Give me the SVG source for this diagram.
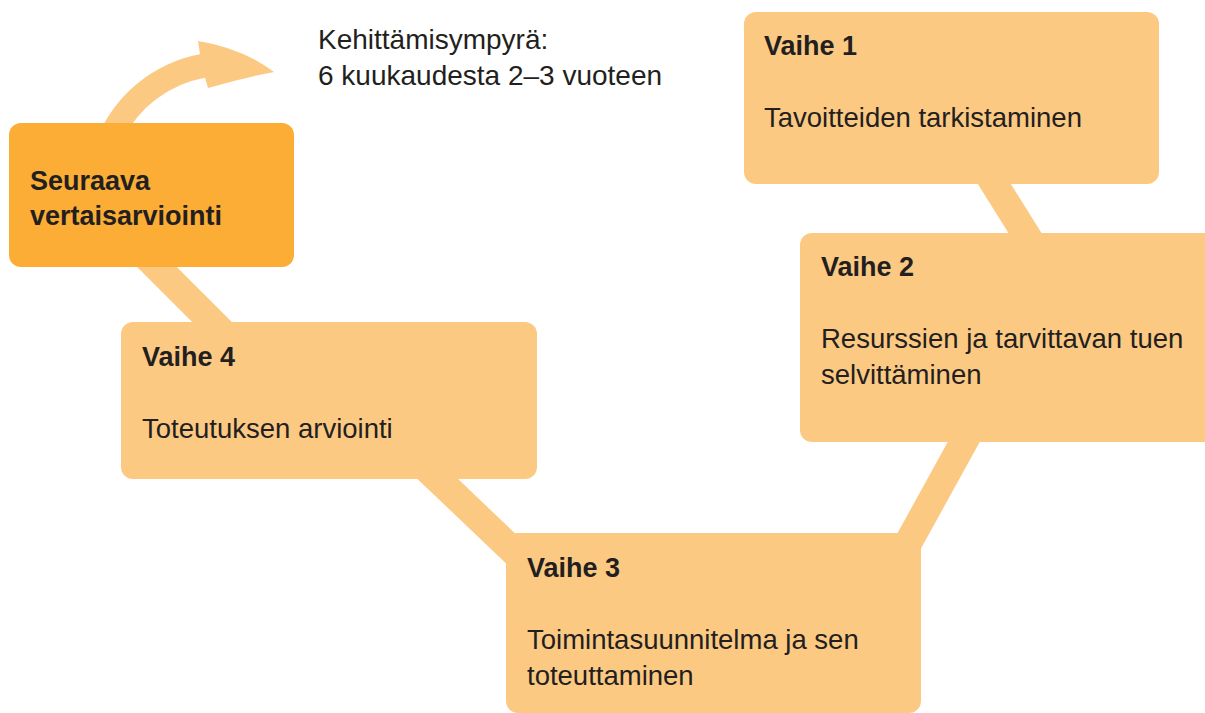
<svg xmlns="http://www.w3.org/2000/svg" width="1205" height="713" viewBox="0 0 1205 713">
  <style>
    .box { fill: #FCC983; }
    .boxdark { fill: #FBAD36; }
    .conn { stroke: #FCC983; stroke-width: 28; stroke-linecap: butt; fill: none; }
    .t { font-family: "Liberation Sans", Arial, sans-serif; fill: #231F20; }
    .h { font-size: 27px; font-weight: bold; }
    .b { font-size: 27.5px; }
    .note { font-size: 28px; }
  </style>
  <rect width="1205" height="713" fill="#FFFFFF"/>
  <g id="connectors">
    <path id="cycle-arrow" fill="#FCC983" d="M 96.4,140 A 138 138 0 0 1 200,54.3 L 198,41 Q 242,48 274,72 Q 242,78 208,88 L 205,77.8 A 114 114 0 0 0 122.6,140 Z"/>
    <line class="conn" x1="140" y1="250" x2="230" y2="340"/>
    <line class="conn" x1="420" y1="462" x2="530" y2="567"/>
    <line class="conn" x1="972" y1="427" x2="897" y2="563"/>
    <line class="conn" x1="985" y1="169" x2="1035" y2="249"/>
  </g>
  <g id="note">
    <text class="t note" x="318" y="49">Kehittämisympyrä:</text>
    <text class="t note" x="318" y="85">6 kuukaudesta 2–3 vuoteen</text>
  </g>
  <g id="next-review">
    <rect class="boxdark" x="9" y="123" width="285" height="144" rx="12"/>
    <text class="t h" x="30" y="190">Seuraava</text>
    <text class="t h" x="30" y="225">vertaisarviointi</text>
  </g>
  <g id="phase1">
    <rect class="box" x="744" y="12" width="415" height="172" rx="12"/>
    <text class="t h" x="764" y="55">Vaihe 1</text>
    <text class="t b" x="764" y="127">Tavoitteiden tarkistaminen</text>
  </g>
  <g id="phase2">
    <rect class="box" x="800" y="233" width="420" height="209" rx="12"/>
    <text class="t h" x="821" y="276">Vaihe 2</text>
    <text class="t b" x="821" y="348">Resurssien ja tarvittavan tuen</text>
    <text class="t b" x="821" y="384">selvittäminen</text>
  </g>
  <g id="phase3">
    <rect class="box" x="506" y="533" width="415" height="180" rx="12"/>
    <text class="t h" x="527" y="577">Vaihe 3</text>
    <text class="t b" x="527" y="649">Toimintasuunnitelma ja sen</text>
    <text class="t b" x="527" y="685">toteuttaminen</text>
  </g>
  <g id="phase4">
    <rect class="box" x="121" y="322" width="416" height="157" rx="12"/>
    <text class="t h" x="142" y="366">Vaihe 4</text>
    <text class="t b" x="142" y="438">Toteutuksen arviointi</text>
  </g>
</svg>
